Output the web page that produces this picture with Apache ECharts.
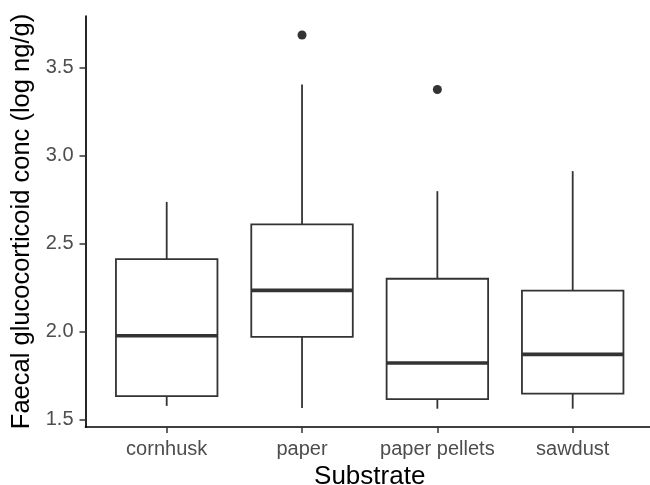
<!DOCTYPE html>
<html>
<head>
<meta charset="utf-8">
<script src="https://cdn.jsdelivr.net/npm/echarts@6/dist/echarts.min.js"></script>
<style>html,body{margin:0;padding:0;background:#fff;}#c{width:650px;height:485px;}</style>
</head>
<body>
<div id="c"></div>
<script>
var categories = ['cornhusk', 'paper', 'paper pellets', 'sawdust'];
var whiskerLow = [1.577, 1.565, 1.561, 1.561];
var q1 = [1.632, 1.969, 1.615, 1.647];
var median = [1.976, 2.234, 1.821, 1.870];
var q3 = [2.412, 2.609, 2.300, 2.232];
var whiskerHigh = [2.737, 3.405, 2.798, 2.912];
var outlierCat = [2, 3];
var outlierVal = [3.686, 3.376];
var yTicks = [1.5, 2.0, 2.5, 3.0, 3.5];
var xTicks = [1, 2, 3, 4];

var boxData = categories.map(function (c, i) {
  return [i + 1, whiskerLow[i], q1[i], median[i], q3[i], whiskerHigh[i]];
});
var outData = outlierCat.map(function (c, i) { return [c, outlierVal[i]]; });

var chart = echarts.init(document.getElementById('c'), null, {renderer: 'canvas'});
var stroke = '#333333';
var font = 'Liberation Sans, Arial, sans-serif';
chart.setOption({
  animation: false,
  backgroundColor: '#ffffff',
  grid: {left: 85.5, top: 16, width: 568.4, bottom: 58, outerBoundsMode: 'none', containLabel: false},
  xAxis: {
    type: 'value', min: 0.4, max: 4.6,
    splitLine: {show: false},
    axisLine: {show: true, onZero: false, lineStyle: {color: '#000', width: 1.7}},
    axisTick: {show: true, customValues: xTicks, length: 6, lineStyle: {color: '#333', width: 1.5}},
    axisLabel: {customValues: xTicks, color: '#4D4D4D', fontSize: 20, fontFamily: font, margin: 12,
      formatter: function (v) { return categories[Math.round(v) - 1] || ''; }},
    name: 'Substrate', nameLocation: 'middle', nameGap: 34,
    nameTextStyle: {color: '#000', fontSize: 26, fontFamily: font}
  },
  yAxis: {
    type: 'value', min: 1.457, max: 3.794,
    splitLine: {show: false},
    axisLine: {show: true, onZero: false, lineStyle: {color: '#000', width: 1.7}},
    axisTick: {show: true, customValues: yTicks, length: 6, lineStyle: {color: '#333', width: 1.5}},
    axisLabel: {customValues: yTicks, color: '#4D4D4D', fontSize: 20, fontFamily: font, margin: 12,
      formatter: function (v) { return v.toFixed(1); }},
    name: 'Faecal glucocorticoid conc (log ng/g)', nameLocation: 'middle', nameGap: 49, nameRotate: 90,
    nameTextStyle: {color: '#000', fontSize: 25.5, fontFamily: font}
  },
  series: [{
    type: 'custom',
    data: boxData,
    encode: {x: 0, y: [1, 2, 3, 4, 5]},
    renderItem: function (params, api) {
      var x = api.value(0);
      var half = api.size([0.75, 0])[0] / 2;
      var pLow = api.coord([x, api.value(1)]);
      var pQ1 = api.coord([x, api.value(2)]);
      var pMed = api.coord([x, api.value(3)]);
      var pQ3 = api.coord([x, api.value(4)]);
      var pHigh = api.coord([x, api.value(5)]);
      var ls = {stroke: stroke, lineWidth: 1.8, fill: null};
      return {
        type: 'group',
        children: [
          {type: 'line', shape: {x1: pHigh[0], y1: pHigh[1], x2: pQ3[0], y2: pQ3[1]}, style: ls},
          {type: 'line', shape: {x1: pLow[0], y1: pLow[1], x2: pQ1[0], y2: pQ1[1]}, style: ls},
          {type: 'rect', shape: {x: pQ3[0] - half, y: pQ3[1], width: 2 * half, height: pQ1[1] - pQ3[1]},
            style: {stroke: stroke, lineWidth: 1.8, fill: '#ffffff'}},
          {type: 'line', shape: {x1: pMed[0] - half, y1: pMed[1], x2: pMed[0] + half, y2: pMed[1]},
            style: {stroke: stroke, lineWidth: 3.6}}
        ]
      };
    }
  }, {
    type: 'scatter',
    data: outData,
    symbol: 'circle',
    symbolSize: 9,
    itemStyle: {color: '#333333', opacity: 1}
  }]
});
</script>
</body>
</html>
